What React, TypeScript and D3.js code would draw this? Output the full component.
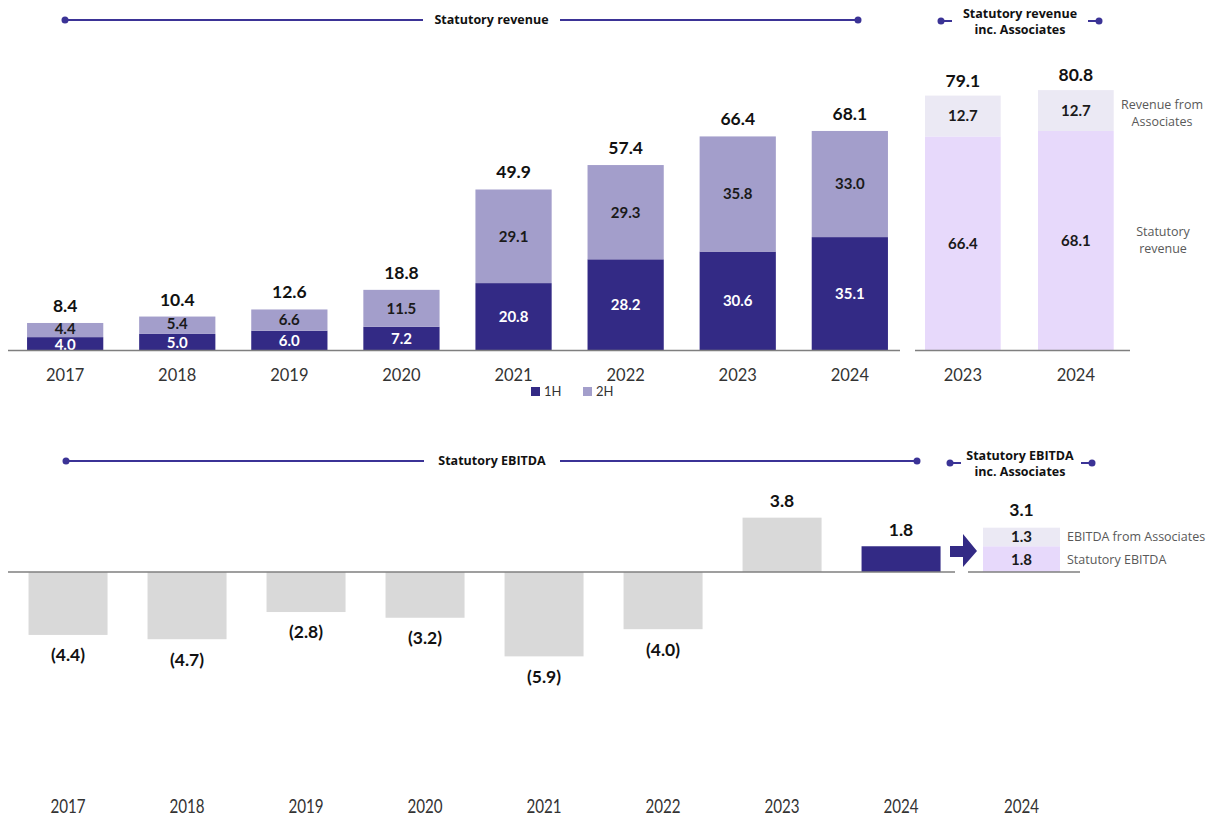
import React from 'react';
import * as d3 from 'd3';

const years = ['2017', '2018', '2019', '2020', '2021', '2022', '2023', '2024'];
const rev1H = [4.0, 5.0, 6.0, 7.2, 20.8, 28.2, 30.6, 35.1];
const rev2H = [4.4, 5.4, 6.6, 11.5, 29.1, 29.3, 35.8, 33.0];
const revTotals = [8.4, 10.4, 12.6, 18.8, 49.9, 57.4, 66.4, 68.1];

const assocYears = ['2023', '2024'];
const assocStatutory = [66.4, 68.1];
const assocRevenue = [12.7, 12.7];
const assocTotals = [79.1, 80.8];

const ebitda = [-4.4, -4.7, -2.8, -3.2, -5.9, -4.0, 3.8, 1.8];
const ebitdaAssocYear = ['2024'];
const ebitdaStatutory = [1.8];
const ebitdaAssoc = [1.3];
const ebitdaAssocTotal = [3.1];

const DARK = '#332a85';
const LIGHT = '#a39ecb';
const ASSOC = '#ebe9f4';
const STAT = '#e7d9fb';
const GREY = '#d9d9d9';
const LINE = '#3b3396';
const FONT = 'Lato, "Open Sans", sans-serif';
const HFONT = '"Open Sans", Lato, sans-serif';

const fmt = (v: number) => (v < 0 ? `(${Math.abs(v).toFixed(1)})` : v.toFixed(1));

function Header({ x1, x2, y, label, gap }: { x1: number; x2: number; y: number; label: string; gap: [number, number] }) {
  return (
    <g>
      <line x1={x1} x2={gap[0]} y1={y} y2={y} stroke={LINE} strokeWidth={2} />
      <line x1={gap[1]} x2={x2} y1={y} y2={y} stroke={LINE} strokeWidth={2} />
      <circle cx={x1} cy={y} r={3.5} fill={LINE} />
      <circle cx={x2} cy={y} r={3.5} fill={LINE} />
      <text x={(gap[0] + gap[1]) / 2} y={y} dy="0.35em" textAnchor="middle" fontFamily={HFONT} fontWeight={700} fontSize={12.5} fill="#111">
        {label}
      </text>
    </g>
  );
}

function SideHeader({ xl, xr, y, cx, lines }: { xl: number; xr: number; y: number; cx: number; lines: [string, string] }) {
  return (
    <g>
      <line x1={xl} x2={xl + 11} y1={y} y2={y} stroke={LINE} strokeWidth={2} />
      <line x1={xr - 11} x2={xr} y1={y} y2={y} stroke={LINE} strokeWidth={2} />
      <circle cx={xl} cy={y} r={3.5} fill={LINE} />
      <circle cx={xr} cy={y} r={3.5} fill={LINE} />
      {lines.map((l, i) => (
        <text key={l} x={cx} y={y - 7 + i * 16} dy="0.35em" textAnchor="middle" fontFamily={HFONT} fontWeight={700} fontSize={12.5} fill="#111">
          {l}
        </text>
      ))}
    </g>
  );
}

export default function App() {
  // top chart scales
  const x = d3.scaleBand<string>().domain(years).range([8, 907]).paddingInner(0.32).paddingOuter(0.17);
  const xa = d3.scaleBand<string>().domain(assocYears).range([913.7, 1125]).paddingInner(0.33).paddingOuter(0.1);
  const y = d3.scaleLinear().domain([0, 85]).range([350, 76.6]);

  // bottom chart scales
  const xb = d3.scaleBand<string>().domain(years).range([8.3, 960.8]).paddingInner(0.336).paddingOuter(0.17);
  const xc = d3.scaleBand<string>().domain(ebitdaAssocYear).range([983, 1060]);
  const yb = d3.scaleLinear().domain([-6, 4]).range([657.8, 514.8]);

  const valStyle = { fontFamily: FONT, fontWeight: 700, fontSize: 17.5, fill: '#111' } as const;
  const inStyle = { fontFamily: FONT, fontWeight: 700, fontSize: 15 } as const;
  const yearStyle = { fontFamily: FONT, fontSize: 16.5, fill: '#333' } as const;
  const sideStyle = { fontFamily: HFONT, fontSize: 12.5, fill: '#595959' } as const;

  return (
    <div style={{ position: 'absolute', left: 0, top: 0 }}>
      <svg width={1220} height={823} style={{ display: 'block', background: '#fff' }}>
        {/* ---------- Statutory revenue ---------- */}
        <Header x1={65} x2={858} y={20} label="Statutory revenue" gap={[423, 560]} />
        <SideHeader xl={941} xr={1099} y={21} cx={1020} lines={['Statutory revenue', 'inc. Associates']} />

        {years.map((yr, i) => {
          const bx = x(yr)!;
          const bw = x.bandwidth();
          const cx = bx + bw / 2;
          const y1 = y(rev1H[i]);
          const y2 = y(rev1H[i] + rev2H[i]);
          const tight = y1 - y2 < 18;
          return (
            <g key={yr}>
              <rect x={bx} y={y1} width={bw} height={y(0) - y1} fill={DARK} />
              <rect x={bx} y={y2} width={bw} height={y1 - y2} fill={LIGHT} />
              <text x={cx} y={(y1 + y(0)) / 2 + (tight ? 1 : 0)} dy="0.36em" textAnchor="middle" {...inStyle} fill="#fff">
                {fmt(rev1H[i])}
              </text>
              <text x={cx} y={(y1 + y2) / 2 - (tight ? 1.5 : 0)} dy="0.36em" textAnchor="middle" {...inStyle} fill="#1a1a1a">
                {fmt(rev2H[i])}
              </text>
              <text x={cx} y={y(revTotals[i]) - 11} textAnchor="middle" {...valStyle}>
                {fmt(revTotals[i])}
              </text>
              <text x={cx} y={381} textAnchor="middle" {...yearStyle}>
                {yr}
              </text>
            </g>
          );
        })}
        <line x1={8} x2={900} y1={350.5} y2={350.5} stroke="#7f7f7f" strokeWidth={1.5} />

        {assocYears.map((yr, i) => {
          const bx = xa(yr)!;
          const bw = xa.bandwidth();
          const cx = bx + bw / 2;
          const y1 = y(assocStatutory[i]);
          const y2 = y(assocStatutory[i] + assocRevenue[i]);
          return (
            <g key={yr}>
              <rect x={bx} y={y1} width={bw} height={y(0) - y1} fill={STAT} />
              <rect x={bx} y={y2} width={bw} height={y1 - y2} fill={ASSOC} />
              <text x={cx} y={(y1 + y(0)) / 2} dy="0.36em" textAnchor="middle" {...inStyle} fill="#1a1a1a">
                {fmt(assocStatutory[i])}
              </text>
              <text x={cx} y={(y1 + y2) / 2} dy="0.36em" textAnchor="middle" {...inStyle} fill="#1a1a1a">
                {fmt(assocRevenue[i])}
              </text>
              <text x={cx} y={y(assocTotals[i]) - 9} textAnchor="middle" {...valStyle}>
                {fmt(assocTotals[i])}
              </text>
              <text x={cx} y={381} textAnchor="middle" {...yearStyle}>
                {yr}
              </text>
            </g>
          );
        })}
        <line x1={915} x2={1130} y1={350.5} y2={350.5} stroke="#7f7f7f" strokeWidth={1.5} />
        <text x={1162} y={109} textAnchor="middle" {...sideStyle}>Revenue from</text>
        <text x={1162} y={126} textAnchor="middle" {...sideStyle}>Associates</text>
        <text x={1163} y={236} textAnchor="middle" {...sideStyle}>Statutory</text>
        <text x={1163} y={253} textAnchor="middle" {...sideStyle}>revenue</text>

        {/* legend */}
        <rect x={531} y={387} width={9} height={9} fill={DARK} />
        <text x={544} y={396} fontFamily={FONT} fontSize={13} fill="#333">1H</text>
        <rect x={583} y={387} width={9} height={9} fill={LIGHT} />
        <text x={596} y={396} fontFamily={FONT} fontSize={13} fill="#333">2H</text>

        {/* ---------- Statutory EBITDA ---------- */}
        <Header x1={66} x2={917} y={461} label="Statutory EBITDA" gap={[424, 560]} />
        <SideHeader xl={950} xr={1092} y={463} cx={1020} lines={['Statutory EBITDA', 'inc. Associates']} />

        {years.map((yr, i) => {
          const bx = xb(yr)!;
          const bw = xb.bandwidth();
          const cx = bx + bw / 2;
          const v = ebitda[i];
          const top = yb(Math.max(0, v));
          const bot = yb(Math.min(0, v));
          const fill = i === years.length - 1 ? DARK : GREY;
          return (
            <g key={yr}>
              <rect x={bx} y={top} width={bw} height={bot - top} fill={fill} />
              <text x={cx} y={v < 0 ? bot + 20 : top - 17} dy="0.36em" textAnchor="middle" {...valStyle}>
                {fmt(v)}
              </text>
              <text x={cx} y={813} textAnchor="middle" transform={`translate(${cx},0) scale(0.82,1) translate(${-cx},0)`} fontFamily={FONT} fontSize={18.5} fill="#333">
                {yr}
              </text>
            </g>
          );
        })}
        <line x1={8} x2={955} y1={572} y2={572} stroke="#7f7f7f" strokeWidth={1.5} />

        {/* arrow */}
        <path d="M950,546 L963,546 L963,534 L977,551 L963,567 L963,557 L950,557 Z" fill={DARK} />

        {ebitdaAssocYear.map((yr, i) => {
          const bx = xc(yr)!;
          const bw = xc.bandwidth();
          const cx = bx + bw / 2;
          const y1 = yb(ebitdaStatutory[i]);
          const y2 = yb(ebitdaStatutory[i] + ebitdaAssoc[i]);
          return (
            <g key={yr}>
              <rect x={bx} y={y1} width={bw} height={yb(0) - y1} fill={STAT} />
              <rect x={bx} y={y2} width={bw} height={y1 - y2} fill={ASSOC} />
              <text x={cx} y={(y1 + yb(0)) / 2} dy="0.36em" textAnchor="middle" {...inStyle} fill="#1a1a1a">
                {fmt(ebitdaStatutory[i])}
              </text>
              <text x={cx} y={(y1 + y2) / 2} dy="0.36em" textAnchor="middle" {...inStyle} fill="#1a1a1a">
                {fmt(ebitdaAssoc[i])}
              </text>
              <text x={cx} y={yb(ebitdaAssocTotal[i]) - 18} dy="0.36em" textAnchor="middle" {...valStyle}>
                {fmt(ebitdaAssocTotal[i])}
              </text>
              <text x={cx} y={813} textAnchor="middle" transform={`translate(${cx},0) scale(0.82,1) translate(${-cx},0)`} fontFamily={FONT} fontSize={18.5} fill="#333">
                {yr}
              </text>
              <text x={bx + bw + 7} y={(y1 + y2) / 2} dy="0.36em" {...sideStyle}>EBITDA from Associates</text>
              <text x={bx + bw + 7} y={(y1 + yb(0)) / 2} dy="0.36em" {...sideStyle}>Statutory EBITDA</text>
            </g>
          );
        })}
        <line x1={968} x2={1080} y1={572} y2={572} stroke="#7f7f7f" strokeWidth={1.5} />
      </svg>
    </div>
  );
}
